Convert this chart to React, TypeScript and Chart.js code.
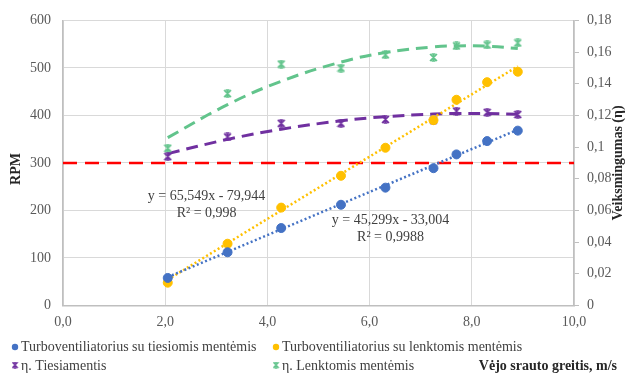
import React, { useEffect, useRef } from 'react';
import { Chart, registerables } from 'chart.js';

Chart.register(...registerables);

// ---------- data ----------
const windSpeed = [2.05, 3.22, 4.27, 5.44, 6.31, 7.25, 7.7, 8.3, 8.9];
const rpmStraight = [58, 112, 163, 212, 248, 289, 318, 346, 368];
const rpmCurved = [48, 130, 206, 273, 332, 390, 433, 470, 492];
const etaStraight = [0.094, 0.1064, 0.115, 0.115, 0.1175, 0.117, 0.1227, 0.1219, 0.1206];
const etaCurved = [0.0993, 0.1338, 0.1524, 0.1499, 0.1583, 0.1566, 0.1639, 0.1645, 0.1658];

// trend lines
const linTrendX = [2.05, 8.9];
const trendRpmStraight = [59.9, 370.1];
const trendRpmCurved = [54.4, 503.5];
const trendEtaStraight = [0.0959, 0.1049, 0.1113, 0.1166, 0.1192, 0.1209, 0.1212, 0.1212, 0.1207];
const trendEtaCurved = [0.106, 0.1268, 0.1416, 0.1537, 0.1597, 0.1633, 0.1639, 0.1637, 0.1623];

const thresholdX = [0, 10];
const thresholdRpm = [300, 300];

const legendLabels = [
  'Turboventiliatorius su tiesiomis mentėmis',
  'Turboventiliatorius su lenktomis mentėmis',
  'η. Tiesiamentis',
  'η. Lenktomis mentėmis',
];
const equationLines = [
  ['y = 65,549x - 79,944', 'R² = 0,998'],
  ['y = 45,299x - 33,004', 'R² = 0,9988'],
];
const xTitle = 'Vėjo srauto greitis, m/s';
const yTitle = 'RPM';
const y2Title = 'Veiksmingumas (η)';

// ---------- styles ----------
const BLUE = '#4472C4';
const YELLOW = '#FFC000';
const PURPLE = '#7030A0';
const GREEN = '#62C48C';
const RED = '#FF0000';
const FONT = '"Liberation Serif", "Times New Roman", serif';

const zip = (xs: number[], ys: number[]) => xs.map((x, i) => ({ x, y: ys[i] }));

function makeStar(color: string): HTMLCanvasElement {
  const c = document.createElement('canvas');
  c.width = 9;
  c.height = 9;
  const g = c.getContext('2d')!;
  g.strokeStyle = color;
  g.lineWidth = 1.6;
  g.beginPath();
  g.moveTo(1, 1); g.lineTo(8, 8);
  g.moveTo(8, 1); g.lineTo(1, 8);
  g.moveTo(2.5, 1); g.lineTo(6.5, 1);
  g.moveTo(2.5, 8); g.lineTo(6.5, 8);
  g.moveTo(4.5, 1); g.lineTo(4.5, 8);
  g.stroke();
  return c;
}

export default function App() {
  const ref = useRef<HTMLCanvasElement>(null);

  useEffect(() => {
    document.body.style.margin = '0';
    const starPurple = makeStar(PURPLE);
    const starGreen = makeStar(GREEN);

    const eqPos = [
      { x: 2.81, y: 229 },
      { x: 6.41, y: 179 },
    ];

    const textPlugin = {
      id: 'customText',
      afterDraw(chart: any) {
        const ctx = chart.ctx as CanvasRenderingContext2D;
        const sx = chart.scales.x;
        const sy = chart.scales.y;
        const area = chart.chartArea;
        ctx.save();
        // equations
        ctx.font = `14px ${FONT}`;
        ctx.fillStyle = '#404040';
        ctx.textAlign = 'center';
        ctx.textBaseline = 'middle';
        equationLines.forEach((lines, i) => {
          const px = sx.getPixelForValue(eqPos[i].x);
          const py = sy.getPixelForValue(eqPos[i].y);
          ctx.fillText(lines[0], px, py);
          ctx.fillText(lines[1], px, py + 16.5);
        });

        // axis titles
        ctx.font = `bold 14px ${FONT}`;
        ctx.fillStyle = '#262626';
        ctx.save();
        ctx.translate(16, (area.top + area.bottom) / 2 + 6);
        ctx.rotate(-Math.PI / 2);
        ctx.fillText(yTitle, 0, 0);
        ctx.restore();
        ctx.save();
        ctx.translate(618, (area.top + area.bottom) / 2);
        ctx.rotate(-Math.PI / 2);
        ctx.fillText(y2Title, 0, 0);
        ctx.restore();
        ctx.textAlign = 'right';
        ctx.fillText(xTitle, 617, 366);

        // legend
        const row1 = 347;
        const row2 = 366;
        const col1 = 15;
        const col2 = 276;
        ctx.font = `14px ${FONT}`;
        ctx.textAlign = 'left';
        const dot = (cx: number, cy: number, color: string) => {
          ctx.beginPath();
          ctx.arc(cx, cy, 3.2, 0, Math.PI * 2);
          ctx.fillStyle = color;
          ctx.fill();
        };
        dot(col1, row1, BLUE);
        dot(col2, row1, YELLOW);
        ctx.drawImage(starPurple, col1 - 3.5, row2 - 4.5, 7, 7);
        ctx.drawImage(starGreen, col2 - 3.5, row2 - 4.5, 7, 7);
        ctx.fillStyle = '#404040';
        ctx.fillText(legendLabels[0], col1 + 6, row1);
        ctx.fillText(legendLabels[1], col2 + 6, row1);
        ctx.fillText(legendLabels[2], col1 + 6, row2);
        ctx.fillText(legendLabels[3], col2 + 6, row2);
        ctx.restore();
      },
    };

    const fmt2 = (v: number) => String(parseFloat(Number(v).toFixed(2))).replace('.', ',');

    const chart = new Chart(ref.current!, {
      type: 'scatter',
      data: {
        datasets: [
          {
            label: legendLabels[0],
            data: zip(windSpeed, rpmStraight),
            yAxisID: 'y',
            backgroundColor: BLUE,
            borderColor: BLUE,
            pointRadius: 4.5,
            order: 0,
          },
          {
            label: legendLabels[1],
            data: zip(windSpeed, rpmCurved),
            yAxisID: 'y',
            backgroundColor: YELLOW,
            borderColor: YELLOW,
            pointRadius: 4.5,
            order: 0,
          },
          {
            label: legendLabels[2],
            data: zip(windSpeed, etaStraight),
            yAxisID: 'y2',
            pointStyle: starPurple as any,
            pointRadius: 5,
            order: 0,
          },
          {
            label: legendLabels[3],
            data: zip(windSpeed, etaCurved),
            yAxisID: 'y2',
            pointStyle: starGreen as any,
            pointRadius: 5,
            order: 0,
          },
          {
            label: 'trend1',
            data: zip(linTrendX, trendRpmStraight),
            yAxisID: 'y',
            showLine: true,
            borderColor: BLUE,
            borderWidth: 2.5,
            borderDash: [2, 2.5],
            pointRadius: 0,
            order: 1,
          },
          {
            label: 'trend2',
            data: zip(linTrendX, trendRpmCurved),
            yAxisID: 'y',
            showLine: true,
            borderColor: YELLOW,
            borderWidth: 2.5,
            borderDash: [2, 2.5],
            pointRadius: 0,
            order: 1,
          },
          {
            label: 'trend3',
            data: zip(windSpeed, trendEtaStraight),
            yAxisID: 'y2',
            showLine: true,
            borderColor: PURPLE,
            borderWidth: 3,
            borderDash: [12, 7],
            tension: 0.4,
            pointRadius: 0,
            order: 1,
          },
          {
            label: 'trend4',
            data: zip(windSpeed, trendEtaCurved),
            yAxisID: 'y2',
            showLine: true,
            borderColor: GREEN,
            borderWidth: 3,
            borderDash: [12, 7],
            tension: 0.4,
            pointRadius: 0,
            order: 1,
          },
          {
            label: 'threshold',
            data: zip(thresholdX, thresholdRpm),
            yAxisID: 'y',
            showLine: true,
            borderColor: RED,
            borderWidth: 2.5,
            borderDash: [14, 8],
            pointRadius: 0,
            order: 2,
          },
        ],
      },
      options: {
        responsive: false,
        animation: false,
        layout: { padding: { top: 19, bottom: 0, left: 0, right: 0 } },
        plugins: {
          legend: { display: false },
          tooltip: { enabled: false },
        },
        scales: {
          x: {
            type: 'linear',
            min: 0,
            max: 10,
            ticks: {
              stepSize: 2,
              padding: 8,
              color: '#595959',
              font: { family: FONT, size: 14 },
              callback: (v: any) => Number(v).toFixed(1).replace('.', ','),
            },
            grid: { color: '#D9D9D9', drawTicks: false },
            border: { color: '#BFBFBF', width: 1.5 },
            afterFit: (s: any) => { s.height = 68.5; },
          },
          y: {
            type: 'linear',
            position: 'left',
            min: 0,
            max: 600,
            ticks: {
              stepSize: 100,
              padding: 12,
              color: '#595959',
              font: { family: FONT, size: 14 },
            },
            grid: { color: '#D9D9D9', drawTicks: false },
            border: { color: '#BFBFBF', width: 1.5 },
            afterFit: (s: any) => { s.width = 63; },
          },
          y2: {
            type: 'linear',
            position: 'right',
            min: 0,
            max: 0.18,
            ticks: {
              stepSize: 0.02,
              padding: 8,
              color: '#595959',
              font: { family: FONT, size: 14 },
              callback: (v: any) => fmt2(v),
            },
            grid: { drawOnChartArea: false, drawTicks: true, tickLength: 5, color: '#BFBFBF' },
            border: { color: '#BFBFBF', width: 1.5 },
            afterFit: (s: any) => { s.width = 56; },
          },
        },
      } as any,
      plugins: [textPlugin],
    });
    return () => chart.destroy();
  }, []);

  return (
    <div style={{ width: 630, height: 374, position: 'relative', background: '#fff' }}>
      <canvas ref={ref} width={630} height={374} />
    </div>
  );
}
